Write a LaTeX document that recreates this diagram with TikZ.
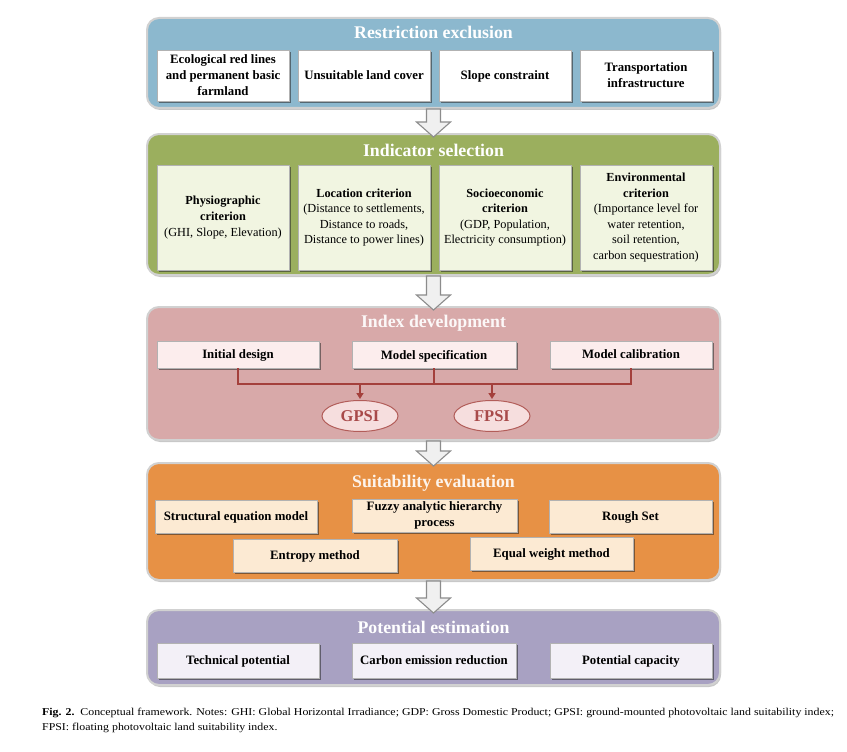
\documentclass[tikz,border=0pt]{standalone}
\usepackage{fontspec}
\setmainfont{Liberation Serif}
\newfontfamily\capfont[FakeStretch=1.13]{Liberation Serif}
\usetikzlibrary{shadows,calc,arrows.meta,shapes.geometric}
\definecolor{bluepan}{HTML}{8CB8CE}
\definecolor{greenpan}{HTML}{9BAF5E}
\definecolor{greenbox}{HTML}{F1F5E1}
\definecolor{pinkpan}{HTML}{D8A9A9}
\definecolor{pinkbox}{HTML}{FCEDED}
\definecolor{redline}{HTML}{A4403C}
\definecolor{ellfill}{HTML}{F6DEDE}
\definecolor{elltext}{HTML}{A84A4A}
\definecolor{orangepan}{HTML}{E79145}
\definecolor{orangebox}{HTML}{FCEAD3}
\definecolor{purplepan}{HTML}{A8A1C2}
\definecolor{purplebox}{HTML}{F3F0F7}
\newcommand\harrow[2]{%
  \path[harrowst] let \p1=(#1.south), \p2=(#2.north) in
   (\x1-7pt,\y1-1pt) -- (\x1-7pt,\y2+12pt) -- (\x1-17pt,\y2+12pt) -- (\x1,\y2-3pt)
   -- (\x1+17pt,\y2+12pt) -- (\x1+7pt,\y2+12pt) -- (\x1+7pt,\y1-1pt) -- cycle;}
\begin{document}
\begin{tikzpicture}[x=1pt,y=-1pt,
  panel/.style={rounded corners=12pt, draw=black!18, line width=2pt, anchor=north west,
    inner sep=0pt, outer sep=0pt,
    drop shadow={shadow xshift=1pt, shadow yshift=-2pt, opacity=0.22, fill=black}},
  ptitle/.style={font=\fontsize{17.8}{20}\selectfont\bfseries, text=white, inner sep=0pt},
  box/.style={anchor=north west, draw=black!30, line width=0.6pt, inner sep=1pt,
    outer sep=0pt, align=center, font=\fontsize{12.8}{16}\selectfont\bfseries,
    drop shadow={shadow xshift=1.6pt, shadow yshift=-1.8pt, opacity=0.55, fill=black!85}},
  ibox/.style={box, font=\fontsize{12.3}{15.6}\selectfont},
  harrowst/.style={draw=black!45, fill=black!6, line width=1.1pt, line join=miter},
  busline/.style={draw=redline, line width=1.8pt},
  ell/.style={ellipse, draw=redline!85, fill=ellfill, line width=1pt, minimum width=76,
    minimum height=31, inner sep=0pt, text=elltext, font=\fontsize{16.5}{19}\selectfont\bfseries}]
\useasboundingbox[fill=white] (0,0) rectangle (847,752);

% Panel 1: Restriction exclusion
\node[panel, fill=bluepan, minimum width=573, minimum height=90] (p1) at (147,18) {};
\node[ptitle] (t1) at (433.5,32) {Restriction exclusion};
\node[box, fill=white, minimum width=132, minimum height=51] (r1) at (157,50)
  {Ecological red lines\\and permanent basic\\farmland};
\node[box, fill=white, minimum width=132, minimum height=51, text depth=0pt] (r2) at (298,50)
  {Unsuitable land cover};
\node[box, fill=white, minimum width=132, minimum height=51, text depth=0pt] (r3) at (439,50)
  {Slope constraint};
\node[box, fill=white, minimum width=132, minimum height=51] (r4) at (580,50)
  {Transportation\\infrastructure};

% Panel 2: Indicator selection
\node[panel, fill=greenpan, minimum width=573, minimum height=141] (p2) at (147,134) {};
\node[ptitle] (t2) at (433.5,150) {Indicator selection};
\node[ibox, fill=greenbox, minimum width=132, minimum height=105] (s1) at (157,165)
  {\textbf{Physiographic}\\\textbf{criterion}\\(GHI, Slope, Elevation)};
\node[ibox, fill=greenbox, minimum width=132, minimum height=105] (s2) at (298,165)
  {\textbf{Location criterion}\\(Distance to settlements,\\Distance to roads,\\Distance to power lines)};
\node[ibox, fill=greenbox, minimum width=132, minimum height=105] (s3) at (439,165)
  {\textbf{Socioeconomic}\\\textbf{criterion}\\(GDP, Population,\\Electricity consumption)};
\node[ibox, fill=greenbox, minimum width=132, minimum height=105] (s4) at (580,165)
  {\textbf{Environmental}\\\textbf{criterion}\\(Importance level for\\water retention,\\soil retention,\\carbon sequestration)};

% Panel 3: Index development
\node[panel, fill=pinkpan, minimum width=573, minimum height=133] (p3) at (147,307) {};
\node[ptitle, text=white!92!pinkpan] (t3) at (433.5,323) {Index development};
\node[box, fill=pinkbox, minimum width=162, minimum height=27, text depth=0pt] (i1) at (157,341) {Initial design};
\node[box, fill=pinkbox, minimum width=164, minimum height=27, text depth=0pt] (i2) at (352,341) {Model specification};
\node[box, fill=pinkbox, minimum width=162, minimum height=27, text depth=0pt] (i3) at (550,341) {Model calibration};
\node[ell] (gpsi) at (360,416) {GPSI};
\node[ell] (fpsi) at (492,416) {FPSI};
\coordinate (bus) at (0,384);
\draw[busline] (i1.south) -- (i1.south |- bus) -- (i3.south |- bus) -- (i3.south);
\draw[busline] (i2.south) -- (i2.south |- bus);
\draw[busline, -{Triangle[length=6pt,width=7pt]}, shorten >=1pt] (gpsi.north |- bus) -- (gpsi.north);
\draw[busline, -{Triangle[length=6pt,width=7pt]}, shorten >=1pt] (fpsi.north |- bus) -- (fpsi.north);

% Panel 4: Suitability evaluation
\node[panel, fill=orangepan, minimum width=573, minimum height=117] (p4) at (147,463) {};
\node[ptitle, text=white!90!orangepan] (t4) at (433.5,483) {Suitability evaluation};
\node[box, fill=orangebox, minimum width=162, minimum height=33, text depth=0pt] (e1) at (155,500) {Structural equation model};
\node[box, fill=orangebox, minimum width=165, minimum height=33] (e2) at (352,499) {Fuzzy analytic hierarchy\\process};
\node[box, fill=orangebox, minimum width=163, minimum height=33, text depth=0pt] (e3) at (549,500) {Rough Set};
\node[box, fill=orangebox, minimum width=164, minimum height=33, text depth=0pt] (e4) at (233,539) {Entropy method};
\node[box, fill=orangebox, minimum width=163, minimum height=33, text depth=0pt] (e5) at (470,537) {Equal weight method};

% Panel 5: Potential estimation
\node[panel, fill=purplepan, minimum width=573, minimum height=75] (p5) at (147,610) {};
\node[ptitle] (t5) at (433.5,627) {Potential estimation};
\node[box, fill=purplebox, minimum width=162, minimum height=35, text depth=0pt] (q1) at (157,643) {Technical potential};
\node[box, fill=purplebox, minimum width=164, minimum height=35, text depth=0pt] (q2) at (352,643) {Carbon emission reduction};
\node[box, fill=purplebox, minimum width=162, minimum height=35, text depth=0pt] (q3) at (550,643) {Potential capacity};

% hollow arrows between panels
\harrow{p1}{p2}
\harrow{p2}{p3}
\harrow{p3}{p4}
\harrow{p4}{p5}

% caption
\node[anchor=north west, align=left, inner sep=0pt, font=\capfont\fontsize{10.5}{15}\selectfont] (cap) at (42,708)
  {\textbf{Fig. 2.}\ \ Conceptual framework. Notes: GHI: Global Horizontal Irradiance; GDP: Gross Domestic Product; GPSI: ground-mounted photovoltaic land suitability index;\\
   FPSI: floating photovoltaic land suitability index.};
\end{tikzpicture}
\end{document}
